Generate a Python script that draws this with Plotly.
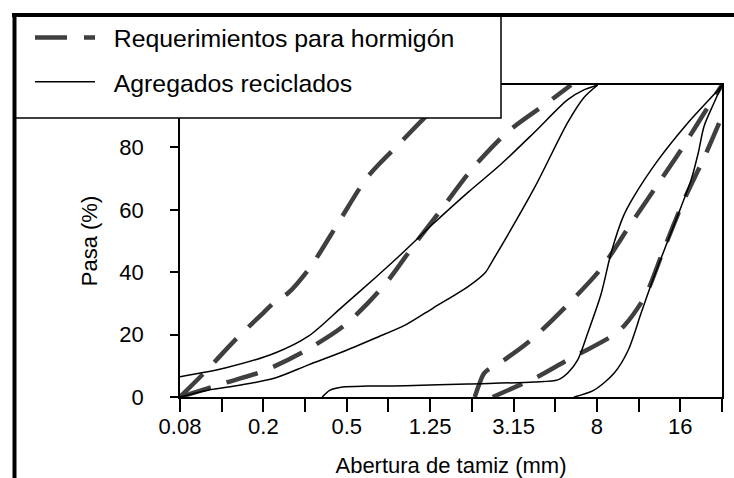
import plotly.graph_objects as go

# Sieve positions on the chart's evenly spaced sieve scale (index of sieve)
sieve_labels = ["0.08", "", "0.2", "", "0.5", "", "1.25", "", "3.15", "", "8", "", "16", ""]
sieve_index = list(range(len(sieve_labels)))
y_ticks = [0, 20, 40, 60, 80]

# Requirement envelopes (dashed)
req1_x = [0, 0.6, 1.37, 2.0, 2.3, 2.6, 3.13, 3.8, 4.45, 4.8, 5.24, 5.82, 6.3, 6.75]
req1_y = [0, 8, 18.9, 27, 30.8, 33.4, 41.7, 55.9, 69.7, 75, 80.9, 88.9, 95, 100]
req2_x = [0, 1.0, 2.0, 3.0, 3.9, 4.5, 5.0, 5.6, 6.3, 7.0, 7.86, 8.82, 9.38]
req2_y = [0, 4.2, 8.3, 14.8, 22.5, 30, 37.5, 48.5, 60.7, 73, 85, 94.4, 100]
req3_x = [7.07, 7.18, 7.3, 7.78, 8.42, 9.3, 10.1, 10.77, 11.42, 12.07, 12.67, 13]
req3_y = [0, 4.2, 7.7, 11.9, 18.3, 29.6, 41.2, 54.6, 67.4, 80.3, 93.1, 100]
req4_x = [7.5, 8.26, 8.58, 9.3, 9.62, 10.4, 10.67, 11.15, 11.6, 12.09, 12.57, 13]
req4_y = [0, 4.5, 6.5, 11.9, 14.1, 19.9, 23.1, 32.2, 47.2, 63.2, 76.7, 90]

# Recycled aggregates (solid)
rec1_x = [0, 1.08, 2.28, 3.08, 3.89, 4.69, 5.29, 6.08, 6.9, 7.69, 8.49, 9.3, 9.7, 10.02]
rec1_y = [6.5, 9.3, 14.1, 19.5, 28.9, 38.3, 45.6, 55.6, 65.5, 74.5, 84.7, 95.3, 98.5, 100]
rec2_x = [0, 0.67, 1.49, 2.28, 3.08, 3.89, 4.69, 5.41, 6.08, 6.9, 7.33, 7.45, 8.5, 9.3, 9.69, 10.02]
rec2_y = [0, 2.2, 3.9, 6.1, 10.3, 14.4, 18.9, 23.1, 28.6, 35.3, 40, 42.6, 67, 88, 96, 100]
rec3_x = [3.41, 3.6, 3.9, 4.5, 5.41, 6.9, 8.49, 9.06, 9.3, 9.54, 9.78, 10.1, 10.34, 10.63, 10.87, 11.47, 12.19, 12.91, 13]
rec3_y = [0, 2.2, 3.2, 3.5, 3.6, 4.2, 4.8, 5.5, 7.7, 11.9, 20.5, 33, 46.2, 57.8, 63.9, 76, 88, 98.5, 100]
rec4_x = [9.45, 9.93, 10.41, 10.75, 11.06, 11.37, 11.71, 12.02, 12.26, 12.43, 12.57, 12.81, 13]
rec4_y = [0, 2.2, 7.6, 15, 26.9, 38.6, 50.4, 61, 69.6, 78.2, 86.8, 94.3, 100]

FONT = "Liberation Sans, Arial, Helvetica, sans-serif"
DASH_COLOR = "#3f3f3f"
DASH = "32px,17px"
NBSP = "\u00a0\u00a0"

fig = go.Figure()

req_sets = [(req1_x, req1_y), (req2_x, req2_y), (req3_x, req3_y), (req4_x, req4_y)]
for i, (xs, ys) in enumerate(req_sets):
    fig.add_trace(go.Scatter(
        x=xs, y=ys, mode="lines", name=NBSP + "Requerimientos para hormigón",
        legendgroup="req", showlegend=(i == 0),
        line=dict(color=DASH_COLOR, width=4.5, dash=DASH, shape="spline", smoothing=0.8),
        hoverinfo="skip"))

rec_sets = [(rec1_x, rec1_y), (rec2_x, rec2_y), (rec3_x, rec3_y), (rec4_x, rec4_y)]
for i, (xs, ys) in enumerate(rec_sets):
    fig.add_trace(go.Scatter(
        x=xs, y=ys, mode="lines", name=NBSP + "Agregados reciclados",
        legendgroup="rec", showlegend=(i == 0),
        line=dict(color="black", width=1.5, shape="spline", smoothing=0.8),
        hoverinfo="skip"))

W, H = 734, 478
L, R, T, B = 180, 12, 85, 81
pw, ph = W - L - R, H - T - B

def px_x(p):
    return (p - L) / pw

def px_y(p):
    return (H - B - p) / ph

shapes = [
    dict(type="rect", xref="paper", yref="paper", layer="above",
         x0=px_x(14), x1=px_x(501), y0=px_y(118), y1=px_y(15),
         fillcolor="white", line=dict(color="black", width=1.5)),
    dict(type="line", xref="paper", yref="paper", layer="above",
         x0=px_x(12), x1=px_x(736), y0=px_y(15), y1=px_y(15),
         line=dict(color="black", width=4)),
    dict(type="line", xref="paper", yref="paper", layer="above",
         x0=px_x(14.5), x1=px_x(14.5), y0=px_y(480), y1=px_y(13),
         line=dict(color="black", width=4)),
]

fig.update_layout(
    width=W, height=H,
    margin=dict(l=L, r=R, t=T, b=B, pad=0, autoexpand=False),
    paper_bgcolor="white", plot_bgcolor="white",
    font=dict(family=FONT, size=22, color="black"),
    shapes=shapes,
    showlegend=True,
    legend=dict(
        x=px_x(30), y=px_y(15), xanchor="left", yanchor="top",
        bgcolor="rgba(0,0,0,0)", borderwidth=0,
        font=dict(family=FONT, size=24.8, color="black"),
        itemwidth=60, tracegroupgap=9, traceorder="grouped",
    ),
    xaxis=dict(
        range=[0, 13], tickmode="array", tickvals=sieve_index, ticktext=sieve_labels,
        ticks="outside", ticklen=13, tickwidth=1.5, tickcolor="black",
        showline=True, linecolor="black", linewidth=1.5, mirror=True,
        showgrid=False, zeroline=False, automargin=False, ticklabelstandoff=-4,
        tickfont=dict(family=FONT, size=22, color="black"),
        title=dict(text="Abertura de tamiz (mm)", standoff=26,
                   font=dict(family=FONT, size=22, color="black")),
    ),
    yaxis=dict(
        range=[0, 100], tickmode="array", tickvals=y_ticks,
        ticks="outside", ticklen=8, tickwidth=1.5, tickcolor="black",
        showline=True, linecolor="black", linewidth=1.5, mirror=True,
        showgrid=False, zeroline=False, ticklabelstandoff=22, automargin=False,
        tickfont=dict(family=FONT, size=22, color="black"),
        title=dict(text="Pasa (%)", standoff=16,
                   font=dict(family=FONT, size=22, color="black")),
    ),
    yaxis2=dict(
        range=[0, 100], overlaying="y", anchor="x", side="left",
        tickmode="array", tickvals=y_ticks, ticks="inside", ticklen=8,
        tickwidth=1.5, tickcolor="black", showticklabels=False, automargin=False,
        showline=False, showgrid=False, zeroline=False,
    ),
)

fig.write_html("out.html")
